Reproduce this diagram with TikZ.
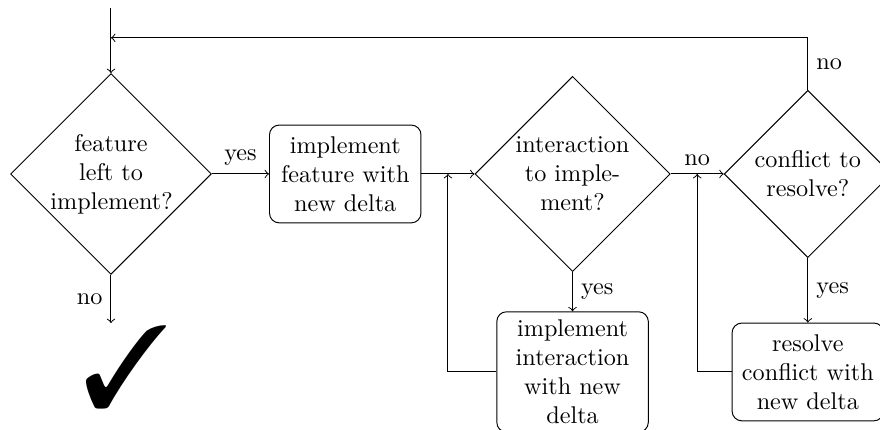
\documentclass[tikz,border=0pt]{standalone}
\usepackage{pifont}
\usetikzlibrary{positioning,shapes.geometric,calc}

\begin{document}
\begin{tikzpicture}[
    decision/.style={
        diamond,
        draw,
        aspect=1,
        text width=5em,
        align=center,
        inner sep=0pt
    },
    block/.style={
        rectangle,
        rounded corners,
        draw,
        text width=5.5em,
        align=center,
        inner xsep=3.8pt,
        minimum height=1.42cm
    },
    arrow/.style={
        ->
    }
]
\useasboundingbox (-1.612,2.527) rectangle (11.17,-3.718);

% decisions and steps
\node[decision] (feature) {feature\\left to\\implement?};

\node[block, right=0.83cm of feature] (implfeature)
{implement\\feature with\\new delta};

\node[decision, right=0.77cm of implfeature] (interaction)
{interaction\\to imple-\\ment?};

\node[decision, right=0.77cm of interaction] (conflict)
{conflict to\\resolve?};

\node[block, below=0.57cm of interaction] (implinteraction)
{implement\\interaction\\with new\\delta};

\node[block] (resolve) at (conflict |- implinteraction)
{resolve\\conflict with\\new delta};

\node[inner sep=0pt, below=0.72cm of feature, xshift=0.22cm] (done)
{\fontsize{48}{48}\selectfont\ding{51}};

% helper points
\coordinate (start) at ($(feature.north)+(0,0.944)$);
\coordinate (back) at ($(conflict.north)+(0,0.755)$);
\coordinate (finish) at ($(feature.south)+(0,-0.7)$);
\coordinate (join1) at ($(implfeature.east)!0.5!(interaction.west)$);
\coordinate (join2) at ($(interaction.east)!0.5!(conflict.west)$);

% main flow
\draw[arrow] (start) -- (feature);
\draw[arrow] (feature) -- node[above] {yes} (implfeature);
\draw[arrow] (implfeature) -- (interaction);
\draw[arrow] (interaction) -- node[above] {no} (conflict);
\draw[arrow] (interaction) -- node[right] {yes} (implinteraction);
\draw[arrow] (conflict) -- node[right] {yes} (resolve);
\draw[arrow] (feature) -- node[left] {no} (finish);

% loops back
\draw[arrow] (implinteraction.west) -| (join1);
\draw[arrow] (resolve.west) -| (join2);
\draw[arrow] (conflict.north) -- node[right] {no} (back) -- (back -| start);

\end{tikzpicture}
\end{document}
